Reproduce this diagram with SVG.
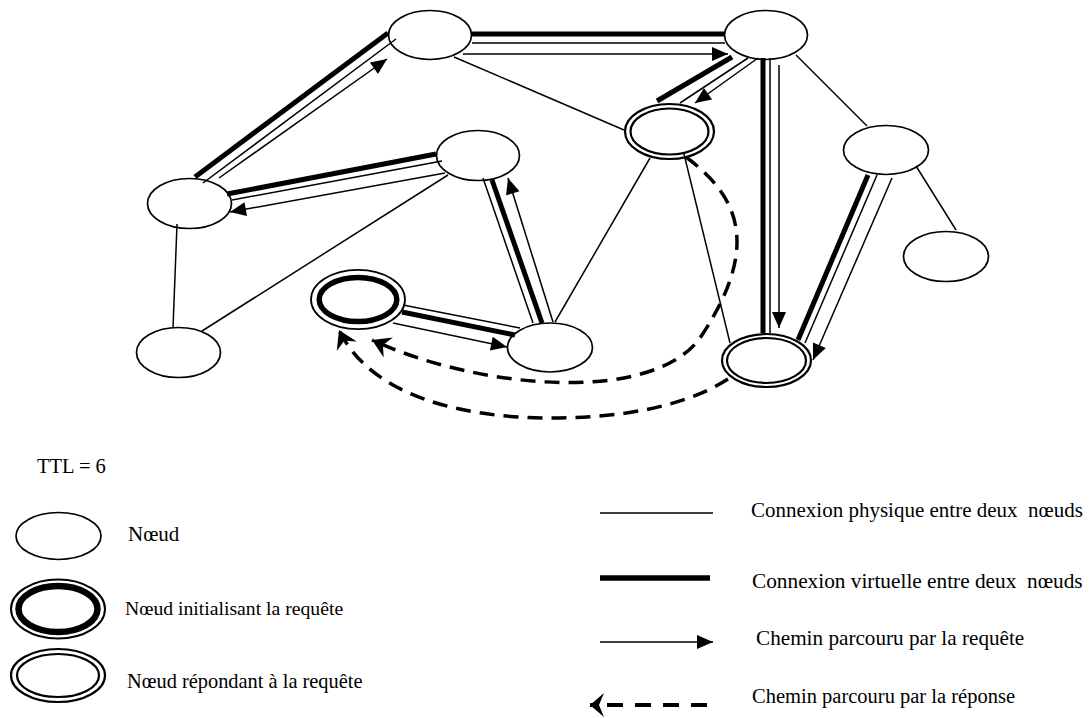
<svg xmlns="http://www.w3.org/2000/svg" width="1092" height="718" viewBox="0 0 1092 718">
  <style>
    .node { fill: #fff; stroke: #000; stroke-width: 1.7; }
    .ring { fill: none; stroke: #000; stroke-width: 2.2; }
    .ringthick { fill: none; stroke: #000; stroke-width: 5.5; }
    .phys { stroke: #000; stroke-width: 1.5; fill: none; }
    .virt { stroke: #000; stroke-width: 5; fill: none; }
    .req { stroke: #000; stroke-width: 1.5; fill: none; marker-end: url(#head-req); }
    .rep { stroke: #000; stroke-width: 3.5; fill: none; stroke-dasharray: 15 9; marker-end: url(#head-rep); }
    .lbl { font-family: "Liberation Serif", "Times New Roman", serif; fill: #000; }
  </style>
  <defs>
    <marker id="head-req" markerWidth="16" markerHeight="14" refX="16" refY="7" orient="auto" markerUnits="userSpaceOnUse" overflow="visible">
      <path d="M0,0 L16,7 L0,14 Z" fill="#000"/>
    </marker>
    <marker id="head-rep" markerWidth="18" markerHeight="22" refX="18" refY="11" orient="auto" markerUnits="userSpaceOnUse" overflow="visible">
      <path d="M18,11 L0,0 L6,11 L0,22 Z" fill="#000"/>
    </marker>
    <marker id="head-rep-key" markerWidth="14" markerHeight="24" refX="14" refY="12" orient="auto" markerUnits="userSpaceOnUse" overflow="visible">
      <path d="M14,12 L0,0 L5,12 L0,24 Z" fill="#000"/>
    </marker>
  </defs>

  <rect width="1092" height="718" fill="#fff"/>

  <!-- network nodes -->
  <g id="node-a"><ellipse class="node" cx="430" cy="35" rx="41.5" ry="24.5"/></g>
  <g id="node-b"><ellipse class="node" cx="189.5" cy="203.5" rx="42" ry="25"/></g>
  <g id="node-c"><ellipse class="node" cx="478" cy="155.5" rx="41.5" ry="25"/></g>
  <g id="node-d"><ellipse class="node" cx="766" cy="35" rx="41.5" ry="24.5"/></g>
  <g id="node-f"><ellipse class="node" cx="886" cy="150" rx="42.5" ry="24.5"/></g>
  <g id="node-g"><ellipse class="node" cx="946" cy="256.5" rx="42.5" ry="25"/></g>
  <g id="node-h"><ellipse class="node" cx="178.5" cy="352.5" rx="42" ry="25"/></g>
  <g id="node-j"><ellipse class="node" cx="550" cy="347.5" rx="42.5" ry="24.5"/></g>
  <g id="node-e">
    <ellipse class="node" cx="669.5" cy="131.5" rx="44.5" ry="27.5" style="stroke-width:2.2"/>
    <ellipse class="ring" cx="669.5" cy="131.5" rx="39" ry="23"/>
  </g>
  <g id="node-k">
    <ellipse class="node" cx="766.5" cy="360.5" rx="44.5" ry="26.5" style="stroke-width:2.2"/>
    <ellipse class="ring" cx="766.5" cy="360.5" rx="39.5" ry="22.5"/>
  </g>
  <g id="node-i">
    <ellipse class="node" cx="358" cy="299.5" rx="47" ry="29.7" style="stroke-width:1.8"/>
    <ellipse class="ringthick" cx="358" cy="299.5" rx="38.8" ry="22"/>
  </g>

  <!-- links -->
  <g id="connectors">
    <!-- physical links -->
    <line class="phys" x1="454" y1="57" x2="624" y2="130"/>
    <line class="phys" x1="796" y1="55" x2="867" y2="126"/>
    <line class="phys" x1="916" y1="166" x2="956" y2="230"/>
    <line class="phys" x1="650" y1="158" x2="555" y2="322"/>
    <line class="phys" x1="684" y1="154" x2="730" y2="343"/>
    <line class="phys" x1="448" y1="175" x2="202" y2="331"/>
    <line class="phys" x1="177" y1="224" x2="173" y2="328"/>
    <line class="phys" x1="203" y1="183" x2="396" y2="39"/>
    <line class="phys" x1="472" y1="43" x2="725" y2="43"/>
    <line class="phys" x1="680" y1="103" x2="748" y2="58"/>
    <line class="phys" x1="770" y1="58" x2="770" y2="333"/>
    <line class="phys" x1="877" y1="175" x2="805" y2="343"/>
    <line class="phys" x1="232" y1="200" x2="442" y2="161"/>
    <line class="phys" x1="483" y1="178" x2="533" y2="323"/>
    <line class="phys" x1="403" y1="305" x2="520" y2="328"/>

    <!-- virtual links -->
    <line class="virt" x1="195" y1="177" x2="388" y2="33"/>
    <line class="virt" x1="472" y1="34" x2="724" y2="34"/>
    <line class="virt" x1="657" y1="101" x2="732" y2="57"/>
    <line class="virt" x1="763" y1="58" x2="763" y2="333"/>
    <line class="virt" x1="868" y1="175" x2="798" y2="340"/>
    <line class="virt" x1="227" y1="194" x2="436" y2="154"/>
    <line class="virt" x1="492" y1="180" x2="542" y2="323"/>
    <line class="virt" x1="402" y1="312" x2="515" y2="335"/>

    <!-- request path -->
    <line class="req" x1="219" y1="178" x2="387" y2="59"/>
    <line class="req" x1="463" y1="54" x2="728" y2="54"/>
    <line class="req" x1="758" y1="58" x2="695" y2="103"/>
    <line class="req" x1="779" y1="65" x2="779" y2="328"/>
    <line class="req" x1="892" y1="178" x2="813" y2="360"/>
    <line class="req" x1="445" y1="173" x2="230" y2="212"/>
    <line class="req" x1="553" y1="322" x2="508" y2="178"/>
    <line class="req" x1="393" y1="323" x2="507" y2="347"/>

    <!-- response path -->
    <path class="rep" d="M686,157 C737,195 762,244 702,335 C657,405 480,390 372,340"/>
    <path class="rep" d="M728,379 C680,410 610,418 550,418 C460,418 370,395 339,330"/>
  </g>

  <!-- legend -->
  <g id="legend">
    <text class="lbl" x="37" y="473" font-size="20.5">TTL = 6</text>

    <g id="legend-node">
      <ellipse class="node" cx="58.5" cy="536" rx="42.5" ry="23.5"/>
      <text class="lbl" x="128" y="541" font-size="21">Nœud</text>
    </g>
    <g id="legend-initiator">
      <ellipse class="node" cx="58" cy="609" rx="47" ry="29.5" style="stroke-width:2"/>
      <ellipse class="ringthick" cx="58" cy="609" rx="39.5" ry="23" style="stroke-width:6.5"/>
      <text class="lbl" x="125" y="615" font-size="19.7">Nœud initialisant la requête</text>
    </g>
    <g id="legend-responder">
      <ellipse class="node" cx="58" cy="675.5" rx="47" ry="26.5" style="stroke-width:2.2"/>
      <ellipse class="ring" cx="58" cy="675.5" rx="41" ry="21.5"/>
      <text class="lbl" x="127" y="688" font-size="20.4">Nœud répondant à la requête</text>
    </g>

    <g id="legend-physical">
      <line class="phys" x1="600" y1="513" x2="713" y2="513"/>
      <text class="lbl" x="751" y="517" font-size="21" xml:space="preserve">Connexion physique entre deux  nœuds</text>
    </g>
    <g id="legend-virtual">
      <line class="virt" x1="600" y1="578" x2="710" y2="578" style="stroke-width:5.5"/>
      <text class="lbl" x="752" y="588" font-size="21.3" xml:space="preserve">Connexion virtuelle entre deux  nœuds</text>
    </g>
    <g id="legend-request">
      <line class="req" x1="600" y1="642" x2="713" y2="642"/>
      <text class="lbl" x="756" y="645" font-size="21.2">Chemin parcouru par la requête</text>
    </g>
    <g id="legend-response">
      <path class="rep" d="M707,705 H590" style="stroke-dasharray:16 12;stroke-width:4;marker-end:url(#head-rep-key)"/>
      <text class="lbl" x="752" y="703" font-size="20.5">Chemin parcouru par la réponse</text>
    </g>
  </g>
</svg>
